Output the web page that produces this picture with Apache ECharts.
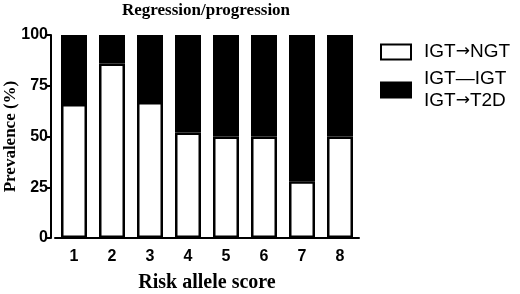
<!DOCTYPE html>
<html><head><meta charset="utf-8">
<script src="https://cdn.jsdelivr.net/npm/echarts@6/dist/echarts.min.js"></script>
<style>html,body{margin:0;padding:0;background:#fff}#c{width:520px;height:294px}</style>
</head><body><div id="c"></div>
<script>
const categories = ['1','2','3','4','5','6','7','8'];
const regression = [66, 86, 67, 52, 50, 50, 28, 50];
const other = [34, 14, 33, 48, 50, 50, 72, 50];
const yTicks = [0, 25, 50, 75, 100];
const legendNames = ['IGT\u2192NGT', 'IGT\u2014IGT\nIGT\u2192T2D'];

function legendFmt(name) {
  return name.split('\n').map(line =>
    line.split('\u2192').map(p => '{t|' + p + '}').join('{a|\u2192}')
  ).join('\n');
}

const chart = echarts.init(document.getElementById('c'));
chart.setOption({
  animation: false,
  title: {
    text: 'Regression/progression', left: 201, top: -3, textAlign: 'center',
    textStyle: { fontFamily: 'Liberation Serif', fontWeight: 'bold', fontSize: 17, color: '#000' }
  },
  legend: {
    orient: 'vertical', left: 375, top: 36, itemWidth: 30, itemHeight: 15, itemGap: 5,
    icon: 'rect',
    formatter: legendFmt,
    textStyle: {
      fontFamily: 'Liberation Sans', fontSize: 19, color: '#000', lineHeight: 22, padding: [0, 0, 0, 8],
      rich: {
        t: { fontFamily: 'Liberation Sans', fontSize: 19, color: '#000', lineHeight: 22 },
        a: { fontFamily: 'DejaVu Sans', fontSize: 17, color: '#000', lineHeight: 22 }
      }
    },
    data: [
      { name: legendNames[0], itemStyle: { color: '#fff', borderColor: '#000', borderWidth: 2 } },
      { name: legendNames[1], itemStyle: { color: '#000' } }
    ]
  },
  grid: { left: 55, right: 161, top: 35, bottom: 56, outerBoundsMode: 'none' },
  xAxis: {
    type: 'category', data: categories,
    axisLine: { lineStyle: { color: '#000', width: 2 } },
    axisTick: { alignWithLabel: true, length: 6, lineStyle: { width: 2 } },
    axisLabel: { fontFamily: 'Liberation Sans', fontWeight: 'bold', fontSize: 16, color: '#000', margin: 11 },
    name: 'Risk allele score', nameLocation: 'middle', nameGap: 35, nameMoveOverlap: false,
    nameTextStyle: { fontFamily: 'Liberation Serif', fontWeight: 'bold', fontSize: 20, color: '#000' }
  },
  yAxis: {
    type: 'value', min: 0, max: 100, interval: 25, offset: 4,
    axisLine: { show: true, lineStyle: { color: '#000', width: 2 } },
    axisTick: { show: true, length: 5, lineStyle: { width: 2 } },
    splitLine: { show: false },
    axisLabel: { fontFamily: 'Liberation Sans', fontWeight: 'bold', fontSize: 16, color: '#000', margin: 3,
      formatter: v => yTicks.includes(v) ? String(v) : '' },
    name: 'Prevalence (%)', nameLocation: 'middle', nameGap: 32, nameRotate: 90, nameMoveOverlap: false,
    nameTextStyle: { fontFamily: 'Liberation Serif', fontWeight: 'bold', fontSize: 17, color: '#000' }
  },
  series: [
    { name: legendNames[0], type: 'bar', stack: 's', data: regression, barWidth: 26,
      itemStyle: { color: '#fff', borderColor: '#000', borderWidth: 2.5 } },
    { name: legendNames[1], type: 'bar', stack: 's', data: other, barWidth: 26,
      itemStyle: { color: '#000', borderColor: '#000', borderWidth: 2.5 } }
  ]
});
</script></body></html>
